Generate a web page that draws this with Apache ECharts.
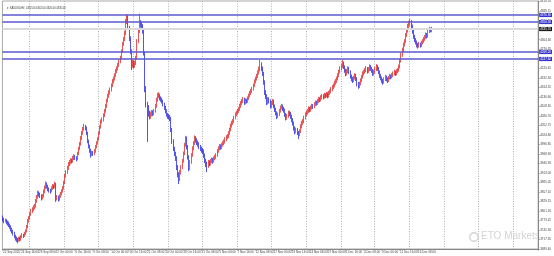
<!DOCTYPE html>
<html><head><meta charset="utf-8">
<script src="https://cdn.jsdelivr.net/npm/echarts@6/dist/echarts.min.js"></script>
<style>html,body{margin:0;padding:0;background:#fff}#c{width:554px;height:256px}</style>
</head><body><div id="c"></div>
<script>
// XAUUSD H4 candles: [open, close, low, high]
const candles = [
[3782,3777,3770,3788],[3777,3772,3765,3781],[3772,3774,3767,3779],[3774,3768,3762,3777],[3768,3766,3758,3773],
[3766,3760,3754,3770],[3760,3755,3749,3764],[3755,3748,3741,3759],[3748,3742,3735,3752],[3742,3736,3729,3746],
[3736,3728,3721,3740],[3728,3722,3714,3731],[3722,3718,3710,3726],[3718,3715,3706,3722],[3715,3720,3711,3725],
[3720,3718,3712,3726],[3718,3725,3714,3730],[3725,3730,3721,3736],[3730,3728,3722,3734],[3728,3735,3725,3740],
[3735,3742,3731,3747],[3742,3755,3738,3760],[3755,3772,3750,3778],[3772,3780,3767,3786],[3780,3792,3776,3797],
[3792,3801,3787,3807],[3801,3806,3795,3812],[3806,3812,3800,3818],[3812,3816,3806,3822],[3816,3830,3811,3836],
[3830,3842,3825,3848],[3842,3854,3837,3861],[3854,3850,3843,3859],[3850,3846,3839,3855],[3846,3840,3832,3850],
[3840,3845,3835,3851],[3845,3858,3841,3864],[3858,3870,3853,3876],[3870,3880,3865,3888],[3880,3874,3867,3885],
[3874,3866,3859,3878],[3866,3862,3855,3870],[3862,3860,3852,3866],[3860,3868,3856,3873],[3868,3875,3863,3880],
[3875,3872,3866,3879],[3872,3880,3868,3887],[3880,3838,3828,3884],[3838,3842,3832,3848],[3842,3836,3829,3846],
[3836,3845,3831,3850],[3845,3852,3840,3857],[3852,3860,3847,3865],[3860,3869,3855,3874],[3869,3885,3864,3890],
[3885,3904,3880,3910],[3904,3915,3899,3921],[3915,3928,3910,3934],[3928,3939,3922,3945],[3939,3945,3933,3951],
[3945,3950,3938,3956],[3950,3948,3941,3955],[3948,3957,3943,3963],[3957,3962,3951,3968],[3962,3958,3951,3966],
[3958,3954,3947,3962],[3954,3970,3950,3975],[3970,3985,3965,3990],[3985,3998,3980,4004],[3998,4015,3993,4021],
[4015,4030,4010,4036],[4030,4042,4025,4048],[4042,4050,4037,4057],[4050,4045,4038,4054],[4045,4030,4024,4049],
[4030,4007,4000,4034],[4007,3992,3985,4011],[3992,3980,3972,3996],[3980,3968,3958,3984],[3968,3972,3962,3978],
[3972,3970,3963,3977],[3970,3977,3965,3983],[3977,3990,3972,3995],[3990,4000,3985,4006],[4000,4013,3996,4018],
[4013,4030,4008,4035],[4030,4048,4025,4053],[4048,4065,4043,4070],[4065,4070,4058,4076],[4070,4082,4064,4088],
[4082,4095,4077,4101],[4095,4110,4090,4116],[4110,4125,4104,4131],[4125,4139,4120,4145],[4139,4150,4133,4156],
[4150,4158,4143,4164],[4158,4170,4152,4176],[4170,4183,4165,4189],[4183,4190,4176,4196],[4190,4200,4184,4206],
[4200,4212,4195,4218],[4212,4220,4206,4226],[4220,4230,4214,4236],[4230,4240,4224,4246],[4240,4251,4235,4257],
[4251,4270,4246,4276],[4270,4292,4265,4298],[4292,4305,4286,4312],[4305,4324,4300,4331],[4324,4359,4318,4365],
[4359,4370,4350,4380],[4370,4340,4334,4376],[4340,4309,4300,4345],[4309,4271,4262,4314],[4271,4230,4215,4276],
[4230,4238,4222,4245],[4238,4228,4220,4244],[4228,4236,4222,4242],[4236,4251,4230,4257],[4251,4300,4246,4306],
[4300,4330,4294,4338],[4330,4353,4324,4381],[4353,4350,4340,4362],[4350,4345,4336,4356],[4345,4330,4322,4350],
[4330,4265,4258,4335],[4265,4162,4150,4270],[4162,4115,4105,4168],[4115,4104,4004,4122],[4104,4090,4078,4112],
[4090,4080,4070,4096],[4080,4086,4072,4093],[4086,4092,4079,4098],[4092,4088,4080,4097],[4088,4095,4082,4101],
[4095,4110,4090,4116],[4110,4128,4104,4134],[4128,4139,4122,4148],[4139,4142,4133,4150],[4142,4133,4126,4146],
[4133,4130,4122,4138],[4130,4124,4117,4134],[4124,4115,4108,4128],[4115,4105,4098,4119],[4105,4095,4088,4110],
[4095,4085,4078,4100],[4085,4080,4072,4089],[4080,4078,4070,4086],[4078,4074,4065,4083],[4074,4040,4033,4078],
[4040,4007,3998,4045],[4007,3985,3977,4012],[3985,3970,3962,3990],[3970,3957,3948,3975],[3957,3930,3921,3962],
[3930,3910,3900,3936],[3910,3895,3880,3915],[3895,3915,3889,3921],[3915,3930,3908,3936],[3930,3948,3924,3954],
[3948,3970,3943,3976],[3970,3995,3965,4001],[3995,4016,3990,4022],[4016,3990,3982,4020],[3990,3960,3952,3995],
[3960,3927,3918,3965],[3927,3945,3921,3951],[3945,3965,3940,3971],[3965,3985,3960,3991],[3985,4000,3979,4006],
[4000,4016,3995,4023],[4016,4010,4002,4021],[4010,4002,3995,4015],[4002,3998,3990,4008],[3998,3990,3983,4003],
[3990,3985,3977,3995],[3985,3980,3972,3990],[3980,3977,3968,3986],[3977,3965,3957,3982],[3965,3950,3942,3970],
[3950,3940,3930,3955],[3940,3933,3915,3946],[3933,3945,3928,3951],[3945,3940,3932,3950],[3940,3948,3935,3954],
[3948,3952,3942,3958],[3952,3948,3940,3957],[3948,3955,3943,3961],[3955,3960,3950,3966],[3960,3965,3954,3971],
[3965,3977,3960,3983],[3977,3985,3972,3991],[3985,3992,3979,3998],[3992,3988,3981,3997],[3988,3995,3983,4001],
[3995,4000,3990,4006],[4000,4005,3994,4011],[4005,4012,3999,4018],[4012,4018,4006,4024],[4018,4021,4012,4027],
[4021,4030,4015,4036],[4030,4040,4025,4046],[4040,4052,4035,4058],[4052,4060,4046,4066],[4060,4065,4054,4071],
[4065,4075,4060,4081],[4075,4085,4070,4091],[4085,4090,4079,4096],[4090,4095,4084,4101],[4095,4100,4089,4106],
[4100,4110,4095,4116],[4110,4118,4104,4124],[4118,4124,4112,4130],[4124,4130,4118,4136],[4130,4120,4113,4134],
[4120,4126,4114,4132],[4126,4124,4117,4131],[4124,4132,4119,4138],[4132,4140,4127,4146],[4140,4148,4135,4154],
[4148,4154,4142,4160],[4154,4160,4148,4166],[4160,4170,4155,4176],[4170,4182,4165,4188],[4182,4190,4176,4196],
[4190,4198,4184,4204],[4198,4208,4192,4214],[4208,4218,4202,4225],[4218,4225,4211,4245],[4225,4220,4212,4238],
[4220,4205,4198,4226],[4205,4180,4172,4210],[4180,4150,4142,4185],[4150,4139,4130,4156],[4139,4120,4112,4144],
[4120,4130,4114,4136],[4130,4125,4117,4135],[4125,4110,4102,4129],[4110,4118,4104,4124],[4118,4124,4112,4130],
[4124,4110,4103,4128],[4110,4100,4092,4114],[4100,4090,4082,4104],[4090,4080,4071,4094],[4080,4085,4074,4090],
[4085,4095,4080,4101],[4095,4105,4090,4111],[4105,4110,4099,4116],[4110,4102,4095,4114],[4102,4098,4090,4107],
[4098,4085,4078,4102],[4085,4075,4067,4089],[4075,4080,4069,4086],[4080,4090,4075,4096],[4090,4088,4080,4095],
[4088,4080,4072,4092],[4080,4070,4062,4084],[4070,4060,4052,4074],[4060,4045,4037,4064],[4045,4036,4026,4050],
[4036,4040,4029,4046],[4040,4032,4024,4045],[4032,4027,4012,4036],[4027,4035,4021,4041],[4035,4050,4030,4056],
[4050,4060,4044,4066],[4060,4065,4054,4071],[4065,4075,4059,4081],[4075,4085,4070,4091],[4085,4090,4079,4096],
[4090,4095,4084,4101],[4095,4102,4089,4108],[4102,4098,4091,4107],[4098,4105,4093,4111],[4105,4110,4099,4116],
[4110,4108,4101,4115],[4108,4115,4103,4121],[4115,4120,4109,4126],[4120,4118,4111,4125],[4118,4124,4113,4130],
[4124,4130,4118,4136],[4130,4128,4121,4135],[4128,4135,4123,4141],[4135,4139,4129,4145],[4139,4136,4129,4144],
[4136,4142,4131,4148],[4142,4140,4133,4147],[4140,4145,4135,4151],[4145,4139,4132,4150],[4139,4148,4134,4154],
[4148,4152,4142,4158],[4152,4159,4147,4165],[4159,4165,4153,4171],[4165,4170,4159,4176],[4170,4178,4164,4184],
[4178,4183,4172,4189],[4183,4190,4177,4196],[4190,4200,4185,4206],[4200,4210,4194,4216],[4210,4220,4205,4226],
[4220,4227,4214,4234],[4227,4235,4221,4245],[4235,4225,4218,4240],[4225,4215,4207,4229],[4215,4205,4197,4219],
[4205,4212,4199,4218],[4212,4220,4206,4226],[4220,4210,4203,4225],[4210,4198,4190,4214],[4198,4190,4182,4202],
[4190,4185,4177,4195],[4185,4192,4180,4198],[4192,4200,4187,4206],[4200,4190,4183,4204],[4190,4175,4167,4194],
[4175,4168,4160,4180],[4168,4175,4162,4181],[4175,4185,4170,4191],[4185,4195,4180,4201],[4195,4205,4190,4211],
[4205,4210,4199,4216],[4210,4215,4204,4221],[4215,4220,4209,4227],[4220,4212,4205,4224],[4212,4218,4207,4224],
[4218,4226,4212,4232],[4226,4220,4213,4230],[4220,4214,4207,4224],[4214,4205,4198,4218],[4205,4210,4199,4216],
[4210,4218,4204,4224],[4218,4226,4212,4233],[4226,4220,4213,4230],[4220,4210,4203,4224],[4210,4200,4192,4214],
[4200,4192,4185,4204],[4192,4185,4177,4196],[4185,4180,4172,4189],[4180,4188,4175,4194],[4188,4195,4183,4201],
[4195,4190,4182,4199],[4190,4185,4177,4194],[4185,4192,4180,4198],[4192,4198,4187,4204],[4198,4195,4188,4202],
[4195,4200,4190,4206],[4200,4205,4194,4211],[4205,4210,4199,4216],[4210,4205,4198,4214],[4205,4212,4200,4218],
[4212,4215,4206,4221],[4215,4225,4210,4231],[4225,4242,4220,4248],[4242,4260,4237,4266],[4260,4275,4254,4281],
[4275,4290,4269,4296],[4290,4300,4284,4306],[4300,4318,4295,4324],[4318,4330,4312,4336],[4330,4345,4325,4351],
[4345,4352,4338,4360],[4352,4358,4345,4366],[4358,4345,4338,4362],[4345,4330,4322,4349],[4330,4315,4307,4334],
[4315,4305,4297,4319],[4305,4298,4290,4309],[4298,4290,4282,4302],[4290,4286,4278,4295],[4286,4292,4281,4298],
[4292,4288,4281,4296],[4288,4295,4283,4301],[4295,4300,4290,4306],[4300,4306,4295,4312],[4306,4312,4301,4318],
[4312,4320,4307,4326],[4320,4315,4308,4324],[4315,4330,4310,4336],[4330,4336,4324,4342],[4336,4332,4326,4340],
[4332,4335,4326,4342]
];
// time-axis tick labels (one every 16 H4 bars)
const tickLabels = ["22 Sep 2025","24 Sep 16:00","29 Sep 08:00","2 Oct 00:00","6 Oct 16:00","9 Oct 08:00",
"14 Oct 00:00","16 Oct 16:00","21 Oct 08:00","24 Oct 00:00","28 Oct 16:00","31 Oct 08:00","5 Nov 00:00",
"7 Nov 16:00","12 Nov 08:00","17 Nov 00:00","19 Nov 16:00","24 Nov 08:00","27 Nov 00:00","1 Dec 16:00",
"4 Dec 08:00","9 Dec 00:00","11 Dec 16:00","16 Dec 08:00"];
// horizontal levels
const levelLines = [4376.9, 4356.3, 4268.2, 4247.6];
const currentPrice = 4335.7;
const headerText = "XAUUSD,H4  4332.00 4342.00 4326.00 4335.00";

const totalSlots = 475;       // bar slots incl. empty right margin
const barsPerLabel = 16;
const slots = Array.from({length: totalSlots}, (_, i) => String(i));
const gridStart = 24, gridStep = 30.64;

const chart = echarts.init(document.getElementById('c'), null, {renderer: 'canvas'});
const FONT = 'Liberation Sans, Arial, sans-serif';
const lineMarks = levelLines.map(v => ({
  yAxis: v,
  lineStyle: {color: '#5a5ad0', width: 1.5, type: 'solid', opacity: 1},
  label: {show: true, position: 'end', distance: 1, formatter: v.toFixed(2), color: '#fff',
    backgroundColor: '#3434d0', fontSize: 3, padding: [0.6, 1], fontFamily: FONT}
}));
lineMarks.push({
  yAxis: currentPrice,
  lineStyle: {color: '#dadada', width: 2, type: 'solid', opacity: 1},
  label: {show: true, position: 'end', distance: 1, formatter: currentPrice.toFixed(2), color: '#fff',
    backgroundColor: '#1a1a1a', fontSize: 3, padding: [0.6, 1], fontFamily: FONT}
});

chart.setOption({
  animation: false,
  backgroundColor: '#ffffff',
  grid: {left: 0, right: 13, top: 1, bottom: 7, show: true, borderColor: '#a8a8a8', borderWidth: 1},
  title: {text: '▾ ' + headerText, left: 2, top: 1.5,
    textStyle: {fontSize: 2.6, fontWeight: 'normal', color: '#333', fontFamily: FONT}},
  xAxis: {
    type: 'category', data: slots, boundaryGap: true,
    axisLine: {show: true, lineStyle: {color: '#888', width: 1}},
    axisTick: {show: true, length: 1.5, interval: (i) => i % barsPerLabel === 0 && i / barsPerLabel < tickLabels.length,
      lineStyle: {color: '#888'}},
    axisLabel: {show: true, fontSize: 3, color: '#444', margin: 2, align: 'left', fontFamily: FONT,
      interval: (i) => i % barsPerLabel === 0 && i / barsPerLabel < tickLabels.length,
      formatter: (v, i) => tickLabels[Math.round(i / barsPerLabel)] || ''},
    splitLine: {show: true, interval: (i) => {
        if (i < gridStart) return false;
        const k = (i - gridStart) / gridStep;
        return Math.abs(k - Math.round(k)) * gridStep < 0.5;
      }, lineStyle: {color: '#b4b4b4', type: [1, 1.5], width: 1}}
  },
  yAxis: {
    type: 'value', position: 'right', min: 3689.4, max: 4418, interval: 27.95, scale: true,
    axisLine: {show: true, lineStyle: {color: '#888'}},
    axisTick: {show: true, length: 1.5, lineStyle: {color: '#888'}},
    axisLabel: {fontSize: 3, color: '#444', margin: 2, fontFamily: FONT, showMaxLabel: false,
      formatter: (v) => v.toFixed(2)},
    splitLine: {show: false}
  },
  series: [{
    type: 'candlestick',
    data: candles,
    barWidth: 0.9,
    itemStyle: {color: '#e42a2a', color0: '#2a2ae4', borderColor: '#e42a2a', borderColor0: '#2a2ae4', borderWidth: 0.8},
    markLine: {silent: true, symbol: ['none', 'none'], data: lineMarks, animation: false}
  }],
  graphic: [
    {type: 'circle', shape: {cx: 474, cy: 237, r: 4.2}, style: {fill: 'none', stroke: '#d2d2d2', lineWidth: 1.4}, z: 0},
    {type: 'text', left: 481, top: 231.5, style: {text: 'ETO Markets', fontSize: 10, fill: '#d4d4d4', fontFamily: FONT}, z: 0}
  ]
});
</script></body></html>
